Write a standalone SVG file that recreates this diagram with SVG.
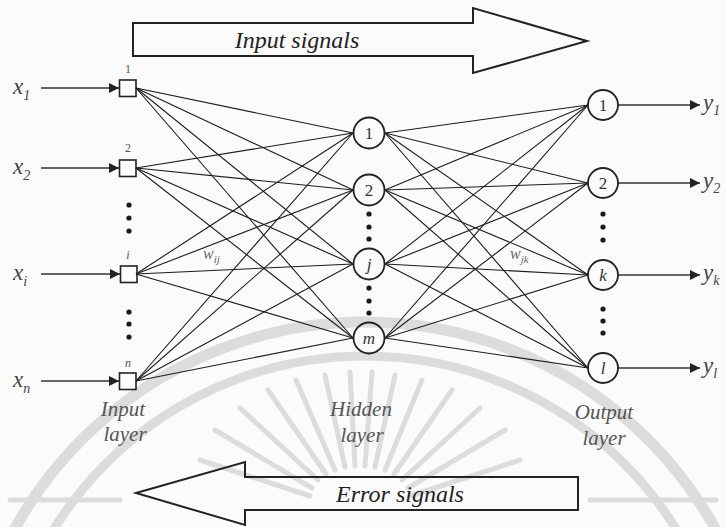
<svg xmlns="http://www.w3.org/2000/svg" width="726" height="527" viewBox="0 0 726 527">
  <defs>
    <marker id="head" viewBox="0 0 10 10" refX="10" refY="5" markerWidth="10" markerHeight="10" markerUnits="userSpaceOnUse" orient="auto">
      <path d="M0,0 L10,5 L0,10 z" fill="#222"/>
    </marker>
    <style>
      .bg { fill: #fbfbfb; }
      .wm { fill: none; stroke: #dcdcdc; stroke-linecap: round; }
      .big { fill: none; stroke: #222; stroke-width: 2; stroke-linejoin: miter; }
      text { font-family: 'Liberation Serif', 'Times New Roman', Times, 'DejaVu Serif', serif; }
      .sig { font-style: italic; font-size: 24px; fill: #222; }
      .layer { font-style: italic; font-size: 21px; fill: #555; text-anchor: middle; }
      .link { stroke: #1c1c1c; stroke-width: 1.1; fill: none; }
      .io { stroke: #333; stroke-width: 1.3; fill: none; marker-end: url(#head); }
      .box { fill: none; stroke: #222; stroke-width: 1.6; }
      .neuron { fill: none; stroke: #222; stroke-width: 1.8; }
      .nl { font-size: 17px; fill: #333; text-anchor: middle; }
      .nli { font-style: italic; }
      .idx { font-size: 12px; fill: #555; text-anchor: middle; }
      .var { font-style: italic; font-size: 23px; fill: #444; }
      .sub { font-size: 14px; }
      .w { font-style: italic; font-size: 16px; fill: #666; }
      .dot { fill: #1a1a1a; }
    </style>
  </defs>

  <rect class="bg" x="0" y="0" width="726" height="527"/>

  <!-- faint seal printed behind the figure -->
  <g id="seal">
    <circle class="wm" cx="365" cy="722" r="400" stroke-width="11"/>
    <circle class="wm" cx="365" cy="722" r="366" stroke-width="9"/>
    <g class="wm" stroke-width="5" stroke="#e4e4e4">
      <line x1="310" y1="496" x2="200" y2="460"/>
      <line x1="312" y1="488" x2="215" y2="430"/>
      <line x1="318" y1="480" x2="240" y2="408"/>
      <line x1="326" y1="474" x2="268" y2="390"/>
      <line x1="335" y1="470" x2="296" y2="380"/>
      <line x1="345" y1="467" x2="325" y2="375"/>
      <line x1="355" y1="466" x2="350" y2="372"/>
      <line x1="365" y1="466" x2="372" y2="372"/>
      <line x1="375" y1="467" x2="395" y2="375"/>
      <line x1="385" y1="470" x2="422" y2="380"/>
      <line x1="394" y1="474" x2="452" y2="390"/>
      <line x1="402" y1="480" x2="480" y2="408"/>
      <line x1="408" y1="488" x2="505" y2="430"/>
      <line x1="410" y1="496" x2="520" y2="460"/>
      <line x1="10" y1="500" x2="120" y2="500"/>
      <line x1="590" y1="500" x2="716" y2="500"/>
    </g>
  </g>

  <!-- direction arrows -->
  <g id="input-signals">
    <polygon class="big" points="133,23 473,23 473,8 587,41 473,73 473,56 133,56"/>
    <text class="sig" x="297" y="48" text-anchor="middle">Input signals</text>
  </g>
  <g id="error-signals">
    <polygon class="big" points="136,493 245,462 245,477 578,477 578,510 245,510 245,525"/>
    <text class="sig" x="400" y="502" text-anchor="middle">Error signals</text>
  </g>

  <!-- weighted connections -->
  <g id="connectors">
    <!-- input layer to hidden layer -->
    <line class="link" x1="136" y1="88" x2="353" y2="133"/>
    <line class="link" x1="136" y1="88" x2="353" y2="190"/>
    <line class="link" x1="136" y1="88" x2="353" y2="264"/>
    <line class="link" x1="136" y1="88" x2="353" y2="338"/>
    <line class="link" x1="136" y1="168" x2="353" y2="133"/>
    <line class="link" x1="136" y1="168" x2="353" y2="190"/>
    <line class="link" x1="136" y1="168" x2="353" y2="264"/>
    <line class="link" x1="136" y1="168" x2="353" y2="338"/>
    <line class="link" x1="136" y1="274" x2="353" y2="133"/>
    <line class="link" x1="136" y1="274" x2="353" y2="190"/>
    <line class="link" x1="136" y1="274" x2="353" y2="264"/>
    <line class="link" x1="136" y1="274" x2="353" y2="338"/>
    <line class="link" x1="136" y1="381" x2="353" y2="133"/>
    <line class="link" x1="136" y1="381" x2="353" y2="190"/>
    <line class="link" x1="136" y1="381" x2="353" y2="264"/>
    <line class="link" x1="136" y1="381" x2="353" y2="338"/>
    <!-- hidden layer to output layer -->
    <line class="link" x1="385" y1="133" x2="588" y2="105"/>
    <line class="link" x1="385" y1="133" x2="588" y2="183"/>
    <line class="link" x1="385" y1="133" x2="588" y2="275"/>
    <line class="link" x1="385" y1="133" x2="588" y2="368"/>
    <line class="link" x1="385" y1="190" x2="588" y2="105"/>
    <line class="link" x1="385" y1="190" x2="588" y2="183"/>
    <line class="link" x1="385" y1="190" x2="588" y2="275"/>
    <line class="link" x1="385" y1="190" x2="588" y2="368"/>
    <line class="link" x1="385" y1="264" x2="588" y2="105"/>
    <line class="link" x1="385" y1="264" x2="588" y2="183"/>
    <line class="link" x1="385" y1="264" x2="588" y2="275"/>
    <line class="link" x1="385" y1="264" x2="588" y2="368"/>
    <line class="link" x1="385" y1="338" x2="588" y2="105"/>
    <line class="link" x1="385" y1="338" x2="588" y2="183"/>
    <line class="link" x1="385" y1="338" x2="588" y2="275"/>
    <line class="link" x1="385" y1="338" x2="588" y2="368"/>
    <!-- inputs and outputs -->
    <line class="io" x1="41" y1="88" x2="119" y2="88"/>
    <line class="io" x1="41" y1="168" x2="119" y2="168" stroke="#777"/>
    <line class="io" x1="41" y1="274" x2="120" y2="274" stroke="#666"/>
    <line class="io" x1="41" y1="381" x2="119" y2="381" stroke="#555"/>
    <line class="io" x1="618" y1="105" x2="700" y2="105"/>
    <line class="io" x1="618" y1="183" x2="700" y2="183"/>
    <line class="io" x1="618" y1="275" x2="700" y2="275"/>
    <line class="io" x1="618" y1="368" x2="700" y2="368"/>
    <!-- weight labels -->
    <text class="w" x="203" y="259">w<tspan dy="4" font-size="11">ij</tspan></text>
    <text class="w" x="510" y="259">w<tspan dy="4" font-size="11">jk</tspan></text>
  </g>

  <!-- input layer -->
  <g id="in-1">
    <text class="var" x="13" y="94">x<tspan class="sub" dy="6">1</tspan></text>
    <rect class="box" x="119.5" y="80" width="16.5" height="16.5"/>
    <text class="idx" x="128" y="73">1</text>
  </g>
  <g id="in-2">
    <text class="var" x="13" y="174" fill="#555">x<tspan class="sub" dy="6">2</tspan></text>
    <rect class="box" x="119.5" y="160" width="16.5" height="16.5"/>
    <text class="idx" x="128" y="152">2</text>
  </g>
  <g id="in-i">
    <text class="var" x="13" y="280" fill="#555">x<tspan class="sub" dy="6">i</tspan></text>
    <rect class="box" x="120.5" y="266" width="16.5" height="16.5"/>
    <text class="idx" x="128" y="259" font-style="italic">i</text>
  </g>
  <g id="in-n">
    <text class="var" x="13" y="387" fill="#555">x<tspan class="sub" dy="6">n</tspan></text>
    <rect class="box" x="119.5" y="373" width="16.5" height="16.5"/>
    <text class="idx" x="128" y="367" font-style="italic">n</text>
  </g>
  <g id="in-dots">
    <circle class="dot" cx="129" cy="205" r="2.6"/>
    <circle class="dot" cx="129" cy="218" r="2.6"/>
    <circle class="dot" cx="129" cy="231" r="2.6"/>
    <circle class="dot" cx="129" cy="312" r="2.6"/>
    <circle class="dot" cx="129" cy="324" r="2.6"/>
    <circle class="dot" cx="129" cy="337" r="2.6"/>
  </g>
  <g id="input-layer-label">
    <text class="layer" x="123" y="416">Input</text>
    <text class="layer" x="125" y="441">layer</text>
  </g>

  <!-- hidden layer -->
  <g id="hid-1">
    <circle class="neuron" cx="369" cy="133" r="15.5"/>
    <text class="nl" x="369" y="139">1</text>
  </g>
  <g id="hid-2">
    <circle class="neuron" cx="369" cy="190" r="15.5"/>
    <text class="nl" x="369" y="196">2</text>
  </g>
  <g id="hid-j">
    <circle class="neuron" cx="369" cy="264" r="15.5"/>
    <text class="nl nli" x="369" y="270">j</text>
  </g>
  <g id="hid-m">
    <circle class="neuron" cx="369" cy="338" r="15.5"/>
    <text class="nl nli" x="369" y="344">m</text>
  </g>
  <g id="hid-dots">
    <circle class="dot" cx="369" cy="214" r="2.6"/>
    <circle class="dot" cx="369" cy="227" r="2.6"/>
    <circle class="dot" cx="369" cy="239" r="2.6"/>
    <circle class="dot" cx="369" cy="288" r="2.6"/>
    <circle class="dot" cx="369" cy="301" r="2.6"/>
    <circle class="dot" cx="369" cy="313" r="2.6"/>
  </g>
  <g id="hidden-layer-label">
    <text class="layer" x="361" y="416">Hidden</text>
    <text class="layer" x="362" y="442">layer</text>
  </g>

  <!-- output layer -->
  <g id="out-1">
    <circle class="neuron" cx="603" cy="105" r="15"/>
    <text class="nl" x="603" y="111">1</text>
    <text class="var" x="703" y="110">y<tspan class="sub" dy="5">1</tspan></text>
  </g>
  <g id="out-2">
    <circle class="neuron" cx="603" cy="183" r="15"/>
    <text class="nl" x="603" y="189">2</text>
    <text class="var" x="703" y="188">y<tspan class="sub" dy="5">2</tspan></text>
  </g>
  <g id="out-k">
    <circle class="neuron" cx="603" cy="275" r="15"/>
    <text class="nl nli" x="603" y="281">k</text>
    <text class="var" x="703" y="280" fill="#666">y<tspan class="sub" dy="5">k</tspan></text>
  </g>
  <g id="out-l">
    <circle class="neuron" cx="603" cy="368" r="15"/>
    <text class="nl nli" x="603" y="374">l</text>
    <text class="var" x="703" y="373" fill="#666">y<tspan class="sub" dy="5">l</tspan></text>
  </g>
  <g id="out-dots">
    <circle class="dot" cx="603" cy="214" r="2.6"/>
    <circle class="dot" cx="603" cy="227" r="2.6"/>
    <circle class="dot" cx="603" cy="240" r="2.6"/>
    <circle class="dot" cx="603" cy="309" r="2.6"/>
    <circle class="dot" cx="603" cy="321" r="2.6"/>
    <circle class="dot" cx="603" cy="333" r="2.6"/>
  </g>
  <g id="output-layer-label">
    <text class="layer" x="604" y="419">Output</text>
    <text class="layer" x="604" y="445">layer</text>
  </g>
</svg>
